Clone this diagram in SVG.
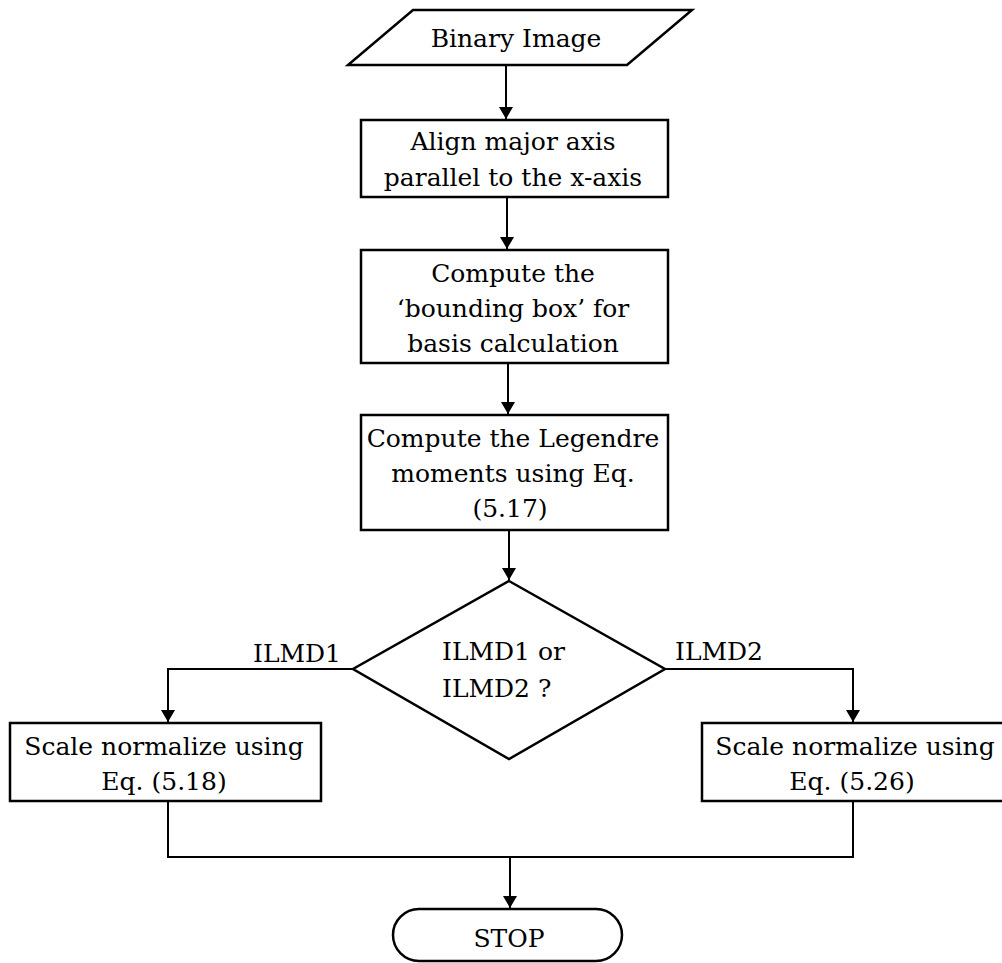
<svg xmlns="http://www.w3.org/2000/svg" width="1002" height="963" viewBox="0 0 1002 963">
  <style>
    .shape { fill: #ffffff; stroke: #000000; stroke-width: 2.5; }
    .wire { fill: none; stroke: #000000; stroke-width: 2; }
    .txt { font-family: "DejaVu Serif", "Liberation Serif", serif; font-size: 25px; fill: #000000; text-anchor: middle; }
    .lbl { font-family: "DejaVu Serif", "Liberation Serif", serif; font-size: 25px; fill: #000000; }
  </style>
  <defs>
    <marker id="arrow" viewBox="0 0 12 16" refX="12" refY="8" markerWidth="12" markerHeight="16" markerUnits="userSpaceOnUse" orient="auto">
      <path d="M0,1 L12,8 L0,15 Z" fill="#000000"/>
    </marker>
  </defs>
  <rect width="1002" height="963" fill="#ffffff"/>

  <!-- connectors -->
  <g id="connectors">
    <line class="wire" x1="506" y1="65" x2="506" y2="119" marker-end="url(#arrow)"/>
    <line class="wire" x1="507" y1="197" x2="507" y2="249" marker-end="url(#arrow)"/>
    <line class="wire" x1="508" y1="363" x2="508" y2="414" marker-end="url(#arrow)"/>
    <line class="wire" x1="509" y1="530" x2="509" y2="580" marker-end="url(#arrow)"/>
    <polyline class="wire" points="353,669 168,669 168,722" marker-end="url(#arrow)"/>
    <polyline class="wire" points="665,669 853,669 853,722" marker-end="url(#arrow)"/>
    <polyline class="wire" points="168,801 168,857 853,857 853,801"/>
    <line class="wire" x1="510" y1="857" x2="510" y2="908" marker-end="url(#arrow)"/>
  </g>

  <!-- input -->
  <g id="binary-image">
    <polygon class="shape" points="413,10 692,10 627,65 348,65"/>
    <text class="txt" x="516" y="47">Binary Image</text>
  </g>

  <g id="align-axis">
    <rect class="shape" x="361" y="120" width="307" height="77"/>
    <text class="txt" x="513" y="150">Align major axis</text>
    <text class="txt" x="513" y="186">parallel to the x-axis</text>
  </g>

  <g id="bounding-box">
    <rect class="shape" x="361" y="250" width="307" height="113"/>
    <text class="txt" x="513" y="282">Compute the</text>
    <text class="txt" x="513" y="317">‘bounding box’ for</text>
    <text class="txt" x="513" y="352">basis calculation</text>
  </g>

  <g id="legendre-moments">
    <rect class="shape" x="361" y="415" width="307" height="115"/>
    <text class="txt" x="513" y="447">Compute the Legendre</text>
    <text class="txt" x="513" y="482">moments using Eq.</text>
    <text class="txt" x="510" y="517">(5.17)</text>
  </g>

  <g id="decision">
    <polygon class="shape" points="509,581 665,669 509,759 353,669"/>
    <text class="lbl" x="442" y="660">ILMD1 or</text>
    <text class="lbl" x="442" y="697">ILMD2 ?</text>
  </g>

  <g id="branch-labels">
    <text class="lbl" x="253" y="662">ILMD1</text>
    <text class="lbl" x="675" y="660">ILMD2</text>
  </g>

  <g id="scale-ilmd1">
    <rect class="shape" x="10" y="723" width="311" height="78"/>
    <text class="txt" x="164" y="755">Scale normalize using</text>
    <text class="txt" x="164" y="790">Eq. (5.18)</text>
  </g>

  <g id="scale-ilmd2">
    <rect class="shape" x="702" y="723" width="304" height="78"/>
    <text class="txt" x="855" y="755">Scale normalize using</text>
    <text class="txt" x="852" y="790">Eq. (5.26)</text>
  </g>

  <g id="stop">
    <rect class="shape" x="393" y="909" width="229" height="52" rx="26" ry="26"/>
    <text class="txt" x="509" y="947">STOP</text>
  </g>
</svg>
